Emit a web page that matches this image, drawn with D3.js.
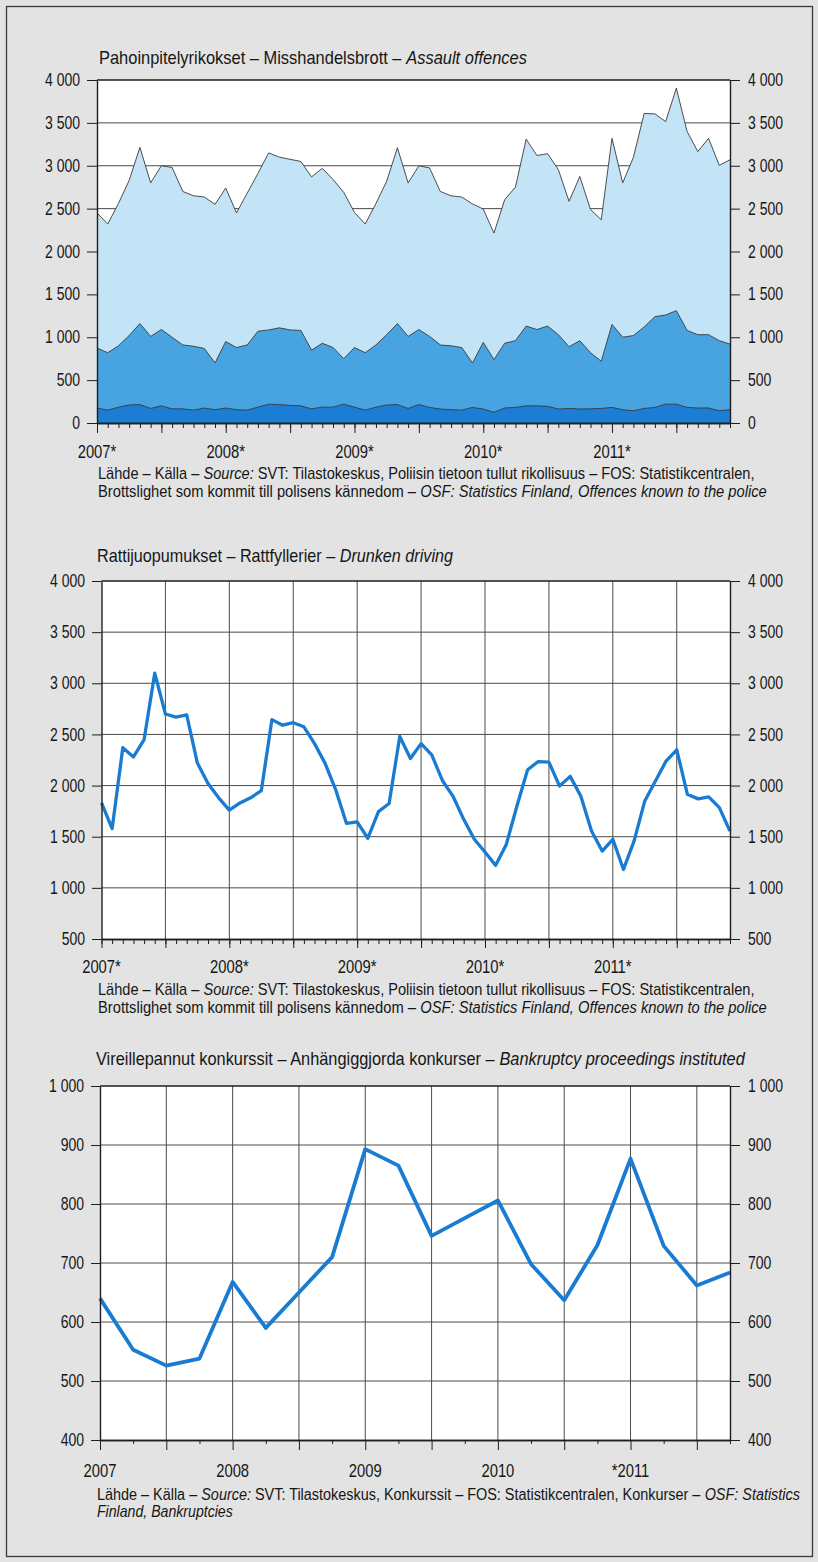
<!DOCTYPE html>
<html><head><meta charset="utf-8">
<script src="https://cdn.jsdelivr.net/npm/d3@7"></script>
<style>
html,body{margin:0;padding:0;background:#e3e3e3;}
svg text{font-family:"Liberation Sans Narrow","Liberation Sans",Arimo,Roboto,sans-serif;font-weight:400;fill:#161616;white-space:pre;}
</style></head><body>
<svg id="c" width="818" height="1562"></svg>
<script>
// ---------- DATA ----------
const years = [2007, 2008, 2009, 2010, 2011];
const monthCategories = years.flatMap(y => d3.range(1, 13).map(m => `${y}-${String(m).padStart(2, "0")}`));
const quarterCategories = years.flatMap(y => [1, 2, 3, 4].map(q => `${y}Q${q}`));

const assaultYearLabels = ["2007*", "2008*", "2009*", "2010*", "2011*"];
const drunkYearLabels = ["2007*", "2008*", "2009*", "2010*", "2011*"];
const bankruptcyYearLabels = ["2007", "2008", "2009", "2010", "*2011"];

// Assault offences: three overlapping area levels (all / upper part / lowest part)
const assaultTotal = [2450,2320,2560,2830,3215,2800,3000,2980,2700,2650,2635,2550,
  2740,2450,2680,2910,3150,3100,3075,3050,2870,2970,2840,2690,
  2455,2320,2560,2820,3210,2800,3000,2975,2700,2650,2635,2555,
  2495,2215,2605,2750,3310,3120,3140,2955,2585,2875,2490,2370,
  3320,2800,3100,3610,3605,3515,3905,3400,3165,3320,3005,3070];
const assaultMiddle = [875,820,900,1020,1160,1010,1090,1000,910,895,870,700,
  950,880,910,1070,1085,1110,1085,1080,850,930,880,750,
  880,820,910,1030,1160,1010,1090,1010,910,900,880,700,
  940,740,930,960,1130,1090,1130,1030,890,960,820,720,
  1150,1000,1020,1120,1240,1260,1310,1080,1030,1030,960,920];
const assaultLow = [175,150,185,210,215,170,200,165,165,150,175,155,
  175,155,150,185,220,215,205,200,165,185,185,220,
  185,150,185,210,215,170,215,182,163,155,150,182,
  163,125,175,182,200,200,195,163,170,163,165,170,
  182,155,143,170,182,220,220,182,175,175,143,155];

// Drunken driving, monthly
const drunkDriving = [1830,1580,2370,2280,2450,3100,2700,2670,2690,2220,2020,1880,
  1760,1830,1880,1950,2645,2590,2615,2575,2410,2215,1955,1630,
  1645,1485,1745,1825,2480,2265,2410,2300,2050,1895,1670,1475,
  1350,1220,1425,1800,2155,2235,2230,1995,2090,1895,1555,1360,
  1475,1180,1460,1850,2045,2240,2350,1915,1870,1890,1785,1555];

// Bankruptcy proceedings instituted, quarterly
const bankruptcies = [640,553,526,538,668,590,650,710,893,865,746,776,806,698,637,730,877,729,662,684];

// ---------- DRAW ----------
const svg = d3.select("#c");
const numFmt = v => d3.format(",")(v).replace(/,/g, " ");
const gridColor = "#4a4a4a", axisColor = "#1e1e1e", lineBlue = "#1a7bd3";
const condense = 0.8;

svg.append("rect").attr("x", 6.5).attr("y", 6.5).attr("width", 806).attr("height", 1550)
  .attr("fill", "#e3e3e3").attr("stroke", "#3a3a3a").attr("stroke-width", 1.3);

// a line of mixed normal/italic text, horizontally scaled to a given total width
function richLine(x, y, size, parts, width) {
  const g = svg.append("g").attr("class", "rich");
  const els = parts.map(p => g.append("text").attr("y", y).attr("font-size", size)
    .attr("font-style", p[1] ? "italic" : "normal").text(p[0]));
  const ws = els.map(e => e.node().getComputedTextLength());
  const k = width / d3.sum(ws);
  let cx = x;
  els.forEach((e, i) => { e.attr("x", cx.toFixed(2)); cx += ws[i]; });
  g.attr("transform", `translate(${(x * (1 - k)).toFixed(2)},0) scale(${k.toFixed(4)},1)`);
}
function styleAxis(g) {
  g.attr("font-family", null).attr("font-size", null);
  g.select(".domain").attr("stroke", axisColor).attr("stroke-width", 1.4);
  g.selectAll(".tick line").attr("stroke", axisColor).attr("stroke-width", 1);
  g.selectAll(".tick text").attr("font-size", 17.5).attr("fill", "#161616");
}
function yAxes(x, y, ticks, tickLen) {
  const l = svg.append("g").attr("transform", `translate(${x.range()[0]},0)`)
    .call(d3.axisLeft(y).tickValues(ticks).tickSize(tickLen).tickSizeOuter(0).tickPadding(7).tickFormat(numFmt));
  styleAxis(l);
  const r = svg.append("g").attr("transform", `translate(${x.range()[1]},0)`)
    .call(d3.axisRight(y).tickValues(ticks).tickSize(10).tickSizeOuter(0).tickPadding(8).tickFormat(numFmt));
  styleAxis(r);
  svg.append("line").attr("x1", x.range()[0]).attr("x2", x.range()[1])
    .attr("y1", y.range()[1]).attr("y2", y.range()[1]).attr("stroke", axisColor).attr("stroke-width", 1.4);
}
function xAxis(x, y, minorTicks, majorTicks, minorLen, majorLen) {
  const base = y.range()[0];
  const a = svg.append("g").attr("transform", `translate(0,${base})`)
    .call(d3.axisBottom(x).tickValues(minorTicks).tickSize(minorLen).tickSizeOuter(0).tickFormat(""));
  styleAxis(a);
  const b = svg.append("g").attr("transform", `translate(0,${base})`)
    .call(d3.axisBottom(x).tickValues(majorTicks).tickSize(majorLen).tickSizeOuter(0).tickFormat(""));
  styleAxis(b);
}
function yearLabels(x, labels, step, yPos) {
  svg.append("g").selectAll("text").data(labels).join("text")
    .attr("x", (d, i) => x(i * step)).attr("y", yPos)
    .attr("text-anchor", "middle").attr("font-size", 18.5).text(d => d);
}
const srcA1 = [["Lähde – Källa – ", 0], ["Source:", 1], [" SVT: Tilastokeskus, Poliisin tietoon tullut rikollisuus – FOS: Statistikcentralen,", 0]];
const srcA2 = [["Brottslighet som kommit till polisens kännedom – ", 0], ["OSF: Statistics Finland, Offences known to the police", 1]];

// ===== Chart 1: Assault offences =====
{
  const x = d3.scaleLinear().domain([0, monthCategories.length - 1]).range([97, 730]);
  const y = d3.scaleLinear().domain([0, 4000]).range([423, 80]);
  richLine(99, 64, 18, [["Pahoinpitelyrikokset – Misshandelsbrott – ", 0], ["Assault offences", 1]], 428);
  svg.append("rect").attr("x", 97).attr("y", 80).attr("width", 633).attr("height", 343).attr("fill", "#fff");
  svg.append("g").selectAll("line").data(d3.range(500, 4000, 500)).join("line")
    .attr("x1", 97).attr("x2", 730).attr("y1", d => y(d)).attr("y2", d => y(d))
    .attr("stroke", gridColor).attr("stroke-width", 1);
  const layers = [[assaultTotal, "#c3e3f7"], [assaultMiddle, "#48a3e1"], [assaultLow, "#1b7dd3"]];
  layers.forEach(([vals, col]) => {
    svg.append("path").datum(vals)
      .attr("d", d3.area().x((d, i) => x(i)).y0(y(0)).y1(d => y(d)))
      .attr("fill", col);
    svg.append("path").datum(vals)
      .attr("d", d3.line().x((d, i) => x(i)).y(d => y(d)))
      .attr("fill", "none").attr("stroke", "#3a3a3a").attr("stroke-width", 0.9);
  });
  yAxes(x, y, d3.range(0, 4001, 500), 10);
  xAxis(x, y, d3.range(0, 60), d3.range(0, 60, 6), 5, 10);
  yearLabels(x, assaultYearLabels, 12, 458);
  richLine(98, 479, 16, srcA1, 657);
  richLine(98, 497, 16, srcA2, 669);
}

// ===== Chart 2: Drunken driving =====
{
  const x = d3.scaleLinear().domain([0, monthCategories.length - 1]).range([101.5, 730]);
  const y = d3.scaleLinear().domain([500, 4000]).range([939, 581]);
  richLine(97, 562, 18, [["Rattijuopumukset – Rattfyllerier – ", 0], ["Drunken driving", 1]], 356);
  svg.append("rect").attr("x", 101.5).attr("y", 581).attr("width", 628.5).attr("height", 358).attr("fill", "#fff");
  svg.append("g").selectAll("line").data(d3.range(1000, 4000, 500)).join("line")
    .attr("x1", 101.5).attr("x2", 730).attr("y1", d => y(d)).attr("y2", d => y(d))
    .attr("stroke", gridColor).attr("stroke-width", 1);
  svg.append("g").selectAll("line").data(d3.range(6, 60, 6)).join("line")
    .attr("x1", d => x(d)).attr("x2", d => x(d)).attr("y1", 581).attr("y2", 939)
    .attr("stroke", gridColor).attr("stroke-width", 1);
  svg.append("path").datum(drunkDriving)
    .attr("d", d3.line().x((d, i) => x(i)).y(d => y(d)))
    .attr("fill", "none").attr("stroke", lineBlue).attr("stroke-width", 3.3).attr("stroke-linejoin", "round");
  yAxes(x, y, d3.range(500, 4001, 500), 9.5);
  xAxis(x, y, d3.range(0, 60), d3.range(0, 60, 6), 5, 9);
  yearLabels(x, drunkYearLabels, 12, 973);
  richLine(98, 995, 16, srcA1, 657);
  richLine(98, 1013, 16, srcA2, 669);
}

// ===== Chart 3: Bankruptcies =====
{
  const x = d3.scaleLinear().domain([0, quarterCategories.length - 1]).range([100, 730]);
  const y = d3.scaleLinear().domain([400, 1000]).range([1440, 1086]);
  richLine(96, 1065, 18, [["Vireillepannut konkurssit – Anhängiggjorda konkurser – ", 0], ["Bankruptcy proceedings instituted", 1]], 649);
  svg.append("rect").attr("x", 100).attr("y", 1086).attr("width", 630).attr("height", 354).attr("fill", "#fff");
  svg.append("g").selectAll("line").data(d3.range(500, 1000, 100)).join("line")
    .attr("x1", 100).attr("x2", 730).attr("y1", d => y(d)).attr("y2", d => y(d))
    .attr("stroke", gridColor).attr("stroke-width", 1);
  svg.append("g").selectAll("line").data(d3.range(2, 20, 2)).join("line")
    .attr("x1", d => x(d)).attr("x2", d => x(d)).attr("y1", 1086).attr("y2", 1440)
    .attr("stroke", gridColor).attr("stroke-width", 1);
  svg.append("path").datum(bankruptcies)
    .attr("d", d3.line().x((d, i) => x(i)).y(d => y(d)))
    .attr("fill", "none").attr("stroke", lineBlue).attr("stroke-width", 3.8).attr("stroke-linejoin", "round");
  yAxes(x, y, d3.range(400, 1001, 100), 9);
  xAxis(x, y, d3.range(1, 20, 2), d3.range(0, 20, 2), 4, 10);
  yearLabels(x, bankruptcyYearLabels, 4, 1477);
  richLine(97, 1500, 16, [["Lähde – Källa – ", 0], ["Source:", 1], [" SVT: Tilastokeskus, Konkurssit – FOS: Statistikcentralen, Konkurser – ", 0], ["OSF: Statistics", 1]], 703);
  richLine(97, 1517, 16, [["Finland, Bankruptcies", 1]], 136);
}

// condense short labels (the original uses a condensed typeface), scaling around each anchor
svg.selectAll("text").each(function () {
  if (this.parentNode.getAttribute("class") === "rich" || !this.textContent) return;
  const ax = +(this.getAttribute("x") || 0);
  d3.select(this).attr("transform", `translate(${(ax * (1 - condense)).toFixed(2)},0) scale(${condense},1)`);
});
</script>
</body></html>
